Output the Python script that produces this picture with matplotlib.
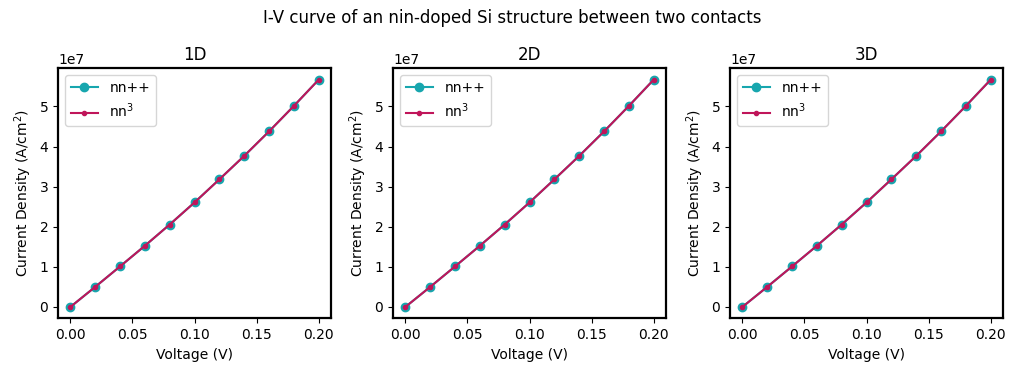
#I-V curves of an nin-doped Si structure, three dimensionalities side by side
import numpy as np
import matplotlib
matplotlib.use('Agg')
from matplotlib import pyplot

#data (current density in A/cm^2)
voltage = [0.00, 0.02, 0.04, 0.06, 0.08, 0.10, 0.12, 0.14, 0.16, 0.18, 0.20]
current_nnpp = [0.0, 0.50e7, 1.01e7, 1.525e7, 2.055e7, 2.605e7, 3.18e7, 3.765e7, 4.375e7, 5.01e7, 5.665e7]
current_nn3 = [0.0, 0.50e7, 1.01e7, 1.525e7, 2.055e7, 2.605e7, 3.18e7, 3.765e7, 4.375e7, 5.01e7, 5.665e7]
panel_titles = ['1D', '2D', '3D']

cyan = '#17a6ae'
crimson = '#c0155a'

fig = pyplot.figure(figsize=(10.24, 3.78), dpi=100)
lefts = [58, 393, 730]
for i in range(3):
	ax = fig.add_axes([lefts[i]/1024, 0.158, 273/1024, 0.661])
	ax.plot(voltage, current_nnpp, color=cyan, marker='o', markersize=6, label='nn++')
	ax.plot(voltage, current_nn3, color=crimson, marker='.', markersize=6, label='nn$^3$')
	ax.set_title(panel_titles[i])
	ax.set_xlabel('Voltage (V)')
	ax.set_ylabel('Current Density (A/cm$^2$)')
	ax.set_xticks([0.0, 0.05, 0.10, 0.15, 0.20])
	ax.legend(loc='upper left')
	for s in ax.spines.values():
		s.set_linewidth(1.6)

fig.suptitle('I-V curve of an nin-doped Si structure between two contacts', y=0.975)
fig.savefig('out.png', dpi=100)
